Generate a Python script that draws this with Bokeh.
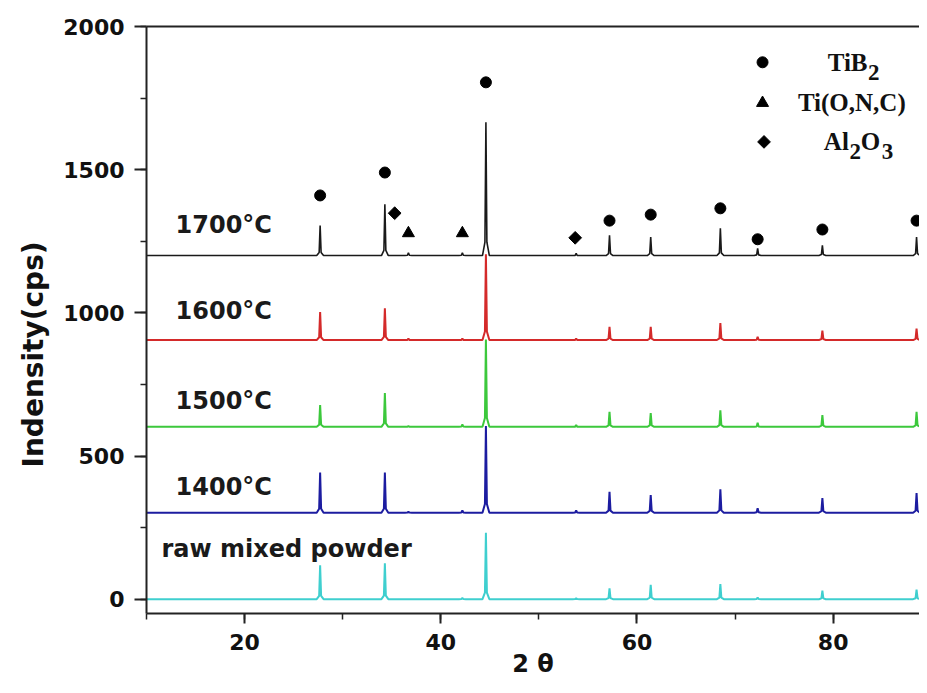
import math
from bokeh.plotting import figure
from bokeh.models import Range1d, LinearAxis, SingleIntervalTicker, FixedTicker, Title
from bokeh.core.properties import value
from bokeh.embed import file_html
from bokeh.resources import INLINE

# ---------------- data ----------------
peak_2theta = [27.7, 34.3, 36.7, 42.2, 44.6, 53.8, 57.2, 61.4, 68.5, 72.3, 78.9, 88.5]

sample_names = ["raw mixed powder", "1400°C", "1500°C", "1600°C", "1700°C"]
sample_offsets = [0, 302, 602, 905, 1200]
heights_raw = [118, 125, 0, 4, 232, 3, 38, 50, 53, 6, 30, 33]
heights_1400 = [140, 140, 3, 8, 303, 8, 73, 62, 82, 16, 51, 69]
heights_1500 = [76, 118, 3, 8, 305, 6, 52, 48, 58, 14, 41, 52]
heights_1600 = [98, 111, 5, 5, 300, 5, 46, 46, 59, 11, 33, 40]
heights_1700 = [105, 179, 10, 10, 466, 8, 71, 65, 95, 25, 36, 65]
sample_heights = [heights_raw, heights_1400, heights_1500, heights_1600, heights_1700]

tib2_x = [27.7, 34.3, 44.6, 57.2, 61.4, 68.5, 72.3, 78.9, 88.5]
tib2_y = [1410, 1490, 1805, 1322, 1343, 1365, 1257, 1291, 1322]
tionc_x = [36.7, 42.2]
tionc_y = [1278, 1278]
al2o3_x = [35.3, 53.7]
al2o3_y = [1348, 1262]

x_start, x_end = 10, 88.8
y_start, y_end = -50, 2000

# ---------------- styles ----------------
colors = ["#3fcfcf", "#1c1ca0", "#3cc83c", "#d42a2a", "#1a1a1a"]
widths = [2, 2, 2, 2, 1.6]

p = figure(width=919, height=685, x_range=Range1d(x_start, x_end), y_range=Range1d(y_start, y_end),
           output_backend="svg", toolbar_location=None,
           min_border_left=146, min_border_right=0, min_border_top=26, min_border_bottom=72)
p.grid.visible = False
p.outline_line_color = None
p.background_fill_color = "white"


def profile(base, heights):
    xs = [x_start - 1]
    ys = [base]
    for pk, h in zip(peak_2theta, heights):
        if h <= 0:
            continue
        xs += [pk - 0.35, pk - 0.1, pk, pk + 0.1, pk + 0.35]
        ys += [base, base + 0.1 * h, base + h, base + 0.1 * h, base]
    xs.append(x_end + 1)
    ys.append(base)
    return xs, ys


for base, hts, c, w in zip(sample_offsets, sample_heights, colors, widths):
    xs, ys = profile(base, hts)
    p.line(xs, ys, line_color=c, line_width=w)

# phase markers
p.scatter(tib2_x, tib2_y, marker="circle", size=11, color="black")
p.scatter(tionc_x, tionc_y, marker="triangle", size=12, color="black")
p.scatter(al2o3_x, al2o3_y, marker="square", angle=math.pi / 4, size=9, color="black")

# sample labels
lab_x = [11.53, 12.96, 12.96, 12.96, 12.96]
lab_y = [176, 392, 693, 1007, 1307]
p.text(lab_x, lab_y, text=sample_names, text_font=value("DejaVu Sans"), text_font_style="bold",
       text_font_size="24px", text_color="#1a1a1a", text_baseline="alphabetic", text_align="left")

# phase legend
leg_my = [1875, 1733, 1597]
p.scatter([72.8], [leg_my[0]], marker="circle", size=11, color="black")
p.scatter([72.8], [leg_my[1]], marker="triangle", size=12, color="black")
p.scatter([72.95], [leg_my[2]], marker="square", angle=math.pi / 4, size=9, color="black")

serif = value("Liberation Serif")
p.text([83.5], [leg_my[0]], text=["TiB"], text_font=serif, text_font_style="bold", text_font_size="25px",
       text_align="right", text_baseline="middle", text_color="#111")
p.text([81.9], [leg_my[1]], text=["Ti(O,N,C)"], text_font=serif, text_font_style="bold", text_font_size="25px",
       text_align="center", text_baseline="middle", text_color="#111")
p.text([81.6], [leg_my[2]], text=["Al"], text_font=serif, text_font_style="bold", text_font_size="25px",
       text_align="right", text_baseline="middle", text_color="#111")
p.text([82.8], [leg_my[2]], text=["O"], text_font=serif, text_font_style="bold", text_font_size="25px",
       text_align="left", text_baseline="middle", text_color="#111")
p.text([83.54, 81.67, 84.95], [leg_my[0], leg_my[2], leg_my[2]], text=["2", "2", "3"], text_font=serif,
       text_font_style="bold", text_font_size="23px", text_align="left", text_baseline="middle",
       y_offset=10, text_color="#111")

# axes
for ax in (p.xaxis[0], p.yaxis[0]):
    ax.axis_line_width = 2
    ax.axis_line_color = "#222222"
    ax.major_tick_in = 0
    ax.minor_tick_in = 0
    ax.minor_tick_out = 6
    ax.major_tick_line_width = 2
    ax.minor_tick_line_width = 1.5
    ax.major_tick_line_color = "#222222"
    ax.minor_tick_line_color = "#222222"
    ax.major_label_text_font = "DejaVu Sans"
    ax.major_label_text_font_style = "bold"
    ax.major_label_text_font_size = "22px"
    ax.major_label_text_color = "#111111"

p.xaxis[0].ticker = SingleIntervalTicker(interval=20, num_minor_ticks=2)
p.yaxis[0].ticker = SingleIntervalTicker(interval=500, num_minor_ticks=2)
p.xaxis[0].major_tick_out = 10
p.yaxis[0].major_tick_out = 12
p.xaxis[0].major_label_standoff = 10
p.yaxis[0].major_label_standoff = 10

p.xaxis[0].axis_label = "2 θ"
p.xaxis[0].axis_label_text_font = "DejaVu Sans"
p.xaxis[0].axis_label_text_font_style = "bold"
p.xaxis[0].axis_label_text_font_size = "24px"
p.xaxis[0].axis_label_text_color = "#111111"
p.xaxis[0].axis_label_standoff = -3

ytitle = Title(text="Indensity(cps)", align="left", offset=146, standoff=22,
               text_font="DejaVu Sans", text_font_style="bold", text_font_size="28px",
               text_color="#111111")
p.add_layout(ytitle, "left")

top = LinearAxis(ticker=FixedTicker(ticks=[]), major_tick_line_color=None, minor_tick_line_color=None,
                 axis_line_width=2, axis_line_color="#222222")
p.add_layout(top, "above")

open("out.html", "w").write(file_html(p, INLINE))
